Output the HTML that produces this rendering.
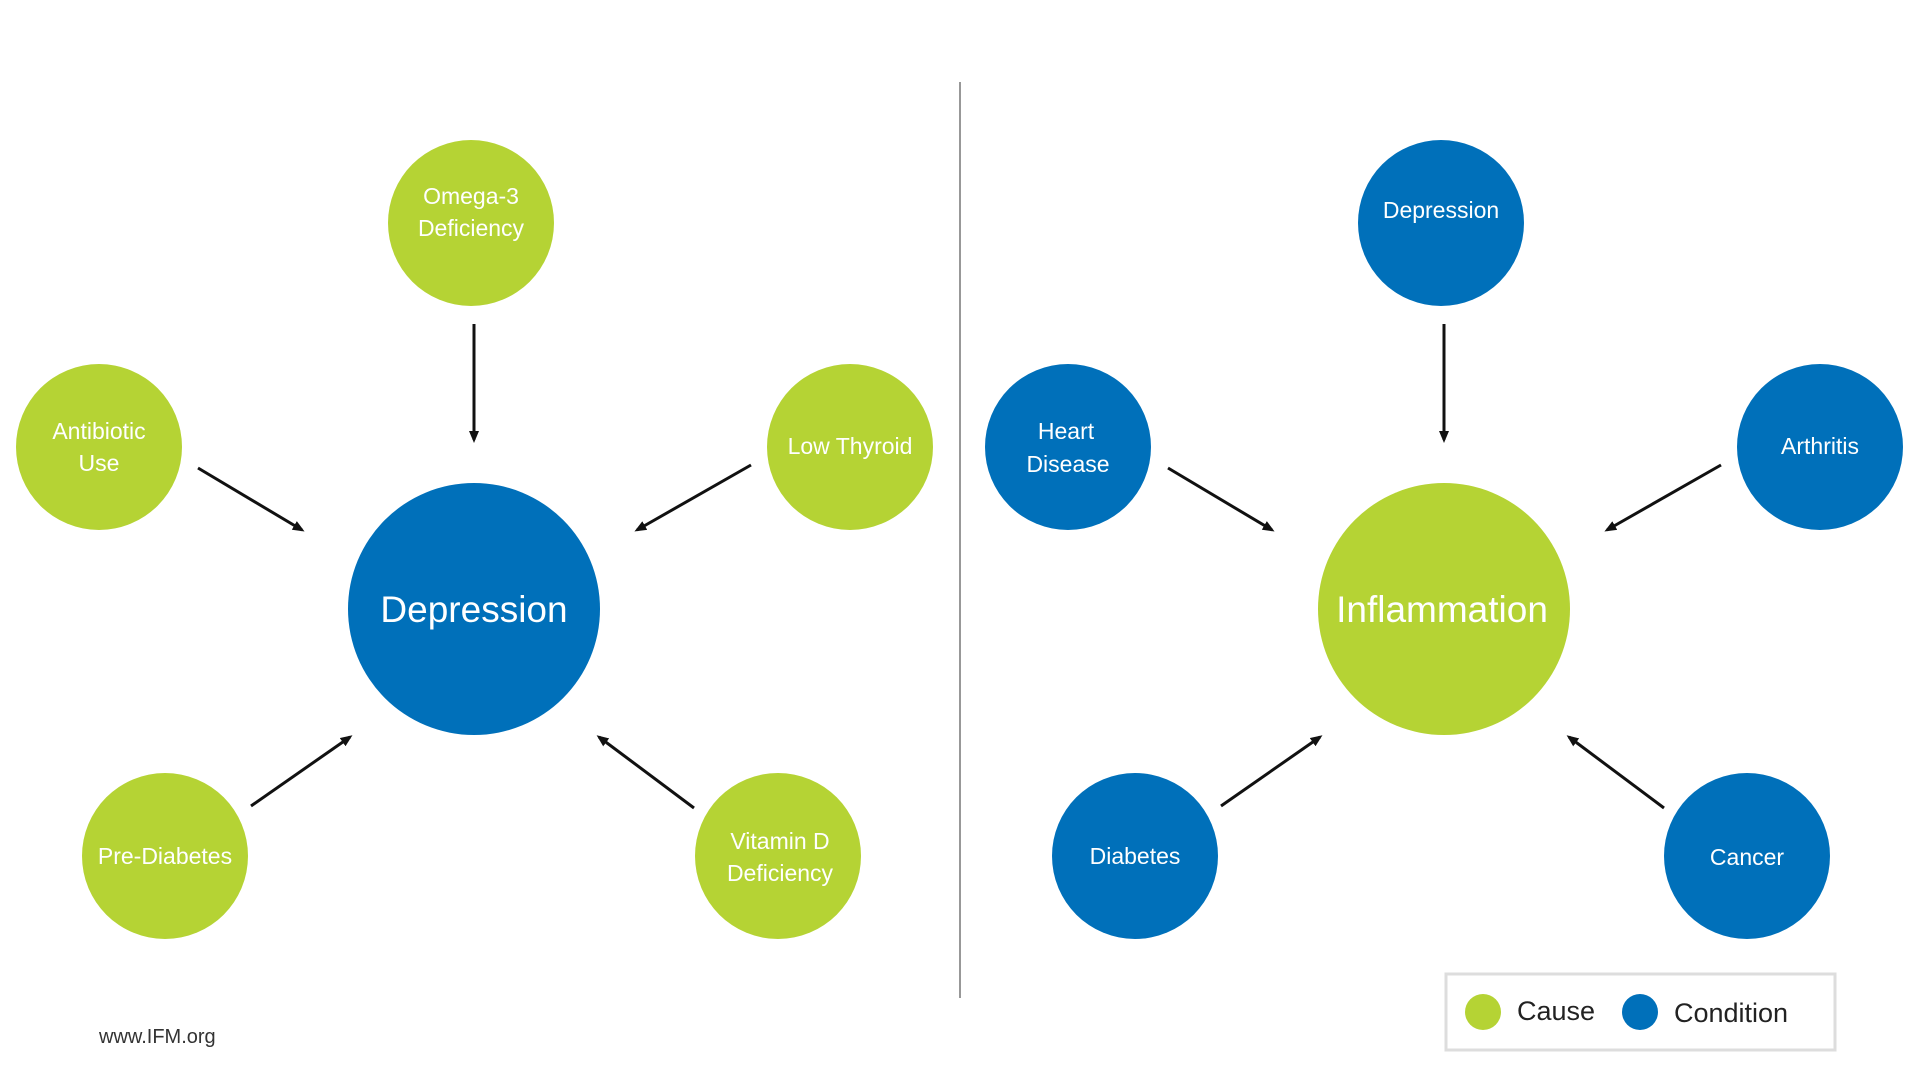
<!DOCTYPE html>
<html><head><meta charset="utf-8"><style>
body{margin:0;width:1920px;height:1080px;background:#fff;overflow:hidden;font-family:"Liberation Sans",sans-serif;}
</style></head><body>
<svg width="1920" height="1080" viewBox="0 0 1920 1080" xmlns="http://www.w3.org/2000/svg" font-family="Liberation Sans, sans-serif">
<defs><marker id="a" markerWidth="12" markerHeight="10" refX="9" refY="5" orient="auto" markerUnits="userSpaceOnUse"><path d="M0,0 L12,5 L0,10 z" fill="#111"/></marker></defs>
<line x1="960" y1="82" x2="960" y2="998" stroke="#777" stroke-width="1.5"/>
<g stroke="#111" stroke-width="3" marker-end="url(#a)">
<line x1="474" y1="324" x2="474" y2="440"/>
<line x1="198" y1="468" x2="302" y2="530"/>
<line x1="751" y1="465" x2="637" y2="530"/>
<line x1="251" y1="806" x2="350" y2="737"/>
<line x1="694" y1="808" x2="599" y2="737"/>
<line x1="1444" y1="324" x2="1444" y2="440"/>
<line x1="1168" y1="468" x2="1272" y2="530"/>
<line x1="1721" y1="465" x2="1607" y2="530"/>
<line x1="1221" y1="806" x2="1320" y2="737"/>
<line x1="1664" y1="808" x2="1569" y2="737"/>
</g>
<g fill="#b5d334">
<circle cx="471" cy="223" r="83"/><circle cx="99" cy="447" r="83"/><circle cx="850" cy="447" r="83"/>
<circle cx="165" cy="856" r="83"/><circle cx="778" cy="856" r="83"/><circle cx="1444" cy="609" r="126"/>
</g>
<g fill="#0070ba">
<circle cx="474" cy="609" r="126"/><circle cx="1441" cy="223" r="83"/><circle cx="1068" cy="447" r="83"/>
<circle cx="1820" cy="447" r="83"/><circle cx="1135" cy="856" r="83"/><circle cx="1747" cy="856" r="83"/>
</g>
<g fill="#fff" font-size="23" text-anchor="middle">
<text x="471" y="204">Omega-3</text><text x="471" y="236">Deficiency</text>
<text x="99" y="439">Antibiotic</text><text x="99" y="471">Use</text>
<text x="850" y="454">Low Thyroid</text>
<text x="165" y="864">Pre-Diabetes</text>
<text x="780" y="849">Vitamin D</text><text x="780" y="881">Deficiency</text>
<text x="1441" y="218">Depression</text>
<text x="1066" y="439">Heart</text><text x="1068" y="472">Disease</text>
<text x="1820" y="454">Arthritis</text>
<text x="1135" y="864">Diabetes</text>
<text x="1747" y="865">Cancer</text>
<text x="474" y="622" font-size="37">Depression</text>
<text x="1442" y="622" font-size="37">Inflammation</text>
</g>
<text x="99" y="1043" font-size="20" fill="#333">www.IFM.org</text>
<rect x="1446" y="974" width="389" height="76" fill="none" stroke="#ddd" stroke-width="3"/>
<circle cx="1483" cy="1012" r="18" fill="#b5d334"/>
<text x="1517" y="1020" font-size="27" fill="#222">Cause</text>
<circle cx="1640" cy="1012" r="18" fill="#0070ba"/>
<text x="1674" y="1022" font-size="27" fill="#222">Condition</text>
</svg>
</body></html>
